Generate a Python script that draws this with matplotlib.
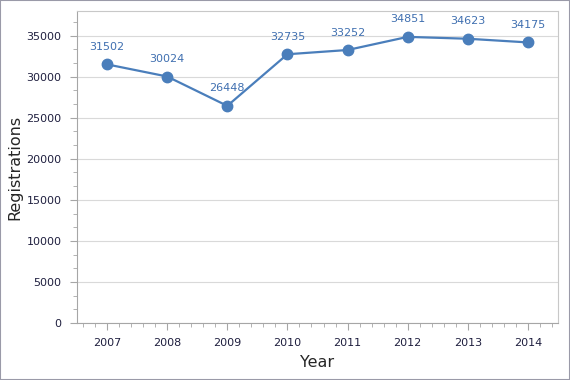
import matplotlib.pyplot as plt
import numpy as np
from matplotlib.patches import Rectangle

years = ['2007', '2008', '2009', '2010', '2011', '2012', '2013', '2014']
registrations = [31502, 30024, 26448, 32735, 33252, 34851, 34623, 34175]

LINE_COLOR = '#4a7ebb'
LABEL_COLOR = '#3f6fb0'
AXIS_GRAY = '#a6a6a6'
TEXT_DARK = '#1f1f3f'

fig = plt.figure(figsize=(5.7, 3.8), dpi=100)
ax = fig.add_axes([0.135, 0.15, 0.844, 0.821])

x = np.arange(len(years))
ax.plot(x, registrations, color=LINE_COLOR, linewidth=1.6, marker='o',
        markersize=7.5, markerfacecolor=LINE_COLOR, markeredgecolor=LINE_COLOR, zorder=3)

for xi, val in zip(x, registrations):
    ax.annotate(str(val), (xi, val), xytext=(0, 9), textcoords='offset points',
                ha='center', va='bottom', fontsize=8, color=LABEL_COLOR)

ax.set_xlim(-0.5, len(years) - 0.5)
ax.set_ylim(0, 38000)
ax.set_xticks(x)
ax.set_xticklabels(years)
ax.set_xticks(np.arange(-0.4, len(years) - 0.5, 0.2), minor=True)
ax.set_yticks(np.arange(0, 35001, 5000))
ax.set_yticks(np.arange(0, 38000, 5000 / 3), minor=True)

ax.grid(axis='y', which='major', color='#d9d9d9', linewidth=0.8)
ax.set_axisbelow(True)

for side in ['left', 'bottom']:
    ax.spines[side].set_color(AXIS_GRAY)
for side in ['top', 'right']:
    ax.spines[side].set_color('#c8c8c8')

ax.tick_params(which='major', length=5, color=AXIS_GRAY, labelsize=8,
               labelcolor=TEXT_DARK, pad=6)
ax.tick_params(which='minor', length=3, color=AXIS_GRAY)
ax.tick_params(axis='x', which='both', top=False)
ax.tick_params(axis='y', which='both', right=False)

ax.set_ylabel('Registrations', fontsize=11.5, color='#262626', labelpad=3)
ax.set_xlabel('Year', fontsize=11.5, color='#262626', labelpad=5)

fig.patches.append(Rectangle((0, 0), 1, 1, transform=fig.transFigure, fill=False,
                             edgecolor='#9a9aa8', linewidth=1.5))

fig.savefig('out.png', dpi=100)
